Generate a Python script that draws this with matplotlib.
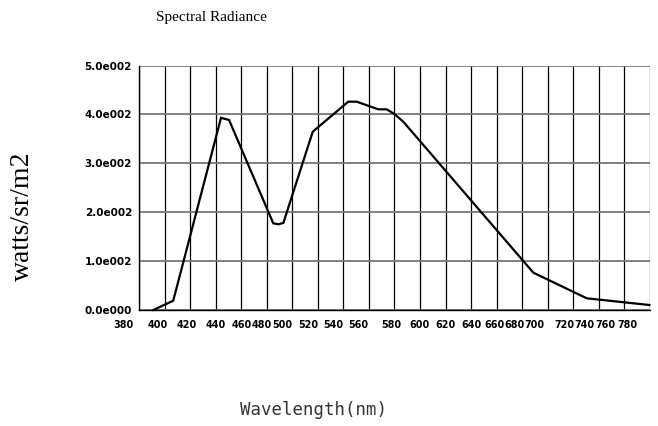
import matplotlib
matplotlib.use("Agg")
import matplotlib.pyplot as plt
import matplotlib.transforms as mtransforms
import numpy as np

# Data
wavelength = [391.2, 406.8, 444.2, 450.5, 485.1, 489.0, 493.0, 516.0, 543.8, 550.4,
              567.3, 573.9, 579.9, 586.9, 688.7, 730.5, 779.5]
radiance = [0.0, 19.0, 393.0, 388.6, 177.3, 175.3, 178.0, 364.6, 426.0, 426.0,
            410.4, 410.4, 400.8, 385.0, 76.3, 23.9, 10.2]

grid_wavelengths = list(range(380, 781, 20))
x_tick_labels = [str(w) for w in grid_wavelengths]
# where each x label sits (as drawn in the reference, slightly irregular)
x_label_pos = [367.5, 394.8, 417.5, 440.1, 460.3, 475.8, 492.0, 512.3, 531.9, 551.9,
               577.8, 599.9, 620.1, 639.9, 658.2, 673.8, 689.2, 713.4, 729.0, 745.2, 762.0]
y_ticks = [0, 100, 200, 300, 400, 500]
y_tick_labels = ["0.0e000", "1.0e002", "2.0e002", "3.0e002", "4.0e002", "5.0e002"]

W, H = 658, 426
fig = plt.figure(figsize=(W / 100, H / 100), dpi=100)
left, right, top, bottom = 139, 650, 65.5, 310
ax = fig.add_axes([left / W, 1 - bottom / H, (right - left) / W, (bottom - top) / H])

# vertical grid lines (black)
ax.set_xticks(grid_wavelengths)
ax.set_xticklabels([])
ax.grid(True, which="major", axis="x", color="black", linewidth=0.9)
# horizontal grid lines (gray)
ax.set_yticks(y_ticks, y_tick_labels)
ax.grid(True, which="major", axis="y", color="#777777", linewidth=1.3)
ax.set_xlim(380, 780)
ax.set_ylim(0, 500)
ax.tick_params(axis="x", which="both", length=0)
ax.tick_params(axis="y", which="both", length=0, pad=5)
tick_font = dict(family="DejaVu Sans", weight="bold", size=7.5)
for lab in ax.get_yticklabels():
    lab.set_fontfamily(tick_font["family"])
    lab.set_fontweight(tick_font["weight"])
    lab.set_fontsize(tick_font["size"])

# x labels, placed as in the reference
x_font = dict(family="DejaVu Sans", weight="bold", size=6.9)
trans = mtransforms.blended_transform_factory(ax.transData, ax.transAxes)
for pos, txt in zip(x_label_pos, x_tick_labels):
    ax.text(pos, -15 / (bottom - top), txt, transform=trans, ha="center", va="center",
            clip_on=False, **x_font)

for s in ["top", "right"]:
    ax.spines[s].set_visible(False)
ax.spines["left"].set_color("black")
ax.spines["bottom"].set_color("black")
ax.spines["left"].set_linewidth(1.0)
ax.spines["bottom"].set_linewidth(1.0)
ax.set_axisbelow(True)

ax.plot(wavelength, radiance, color="black", linewidth=1.6, solid_joinstyle="miter",
        zorder=3, clip_on=False)

fig.text(211 / W, 1 - 17 / H, "Spectral Radiance", family="Liberation Serif",
         fontsize=11, ha="center", va="center")
fig.text(22 / W, 1 - 216 / H, "watts/sr/m2", family="Liberation Serif",
         fontsize=20, ha="center", va="center", rotation=90)
fig.text(313 / W, 1 - 410 / H, "Wavelength(nm)", family="DejaVu Sans Mono",
         fontsize=12.5, ha="center", va="center", color="#333333")

fig.savefig("out.png", dpi=100)
